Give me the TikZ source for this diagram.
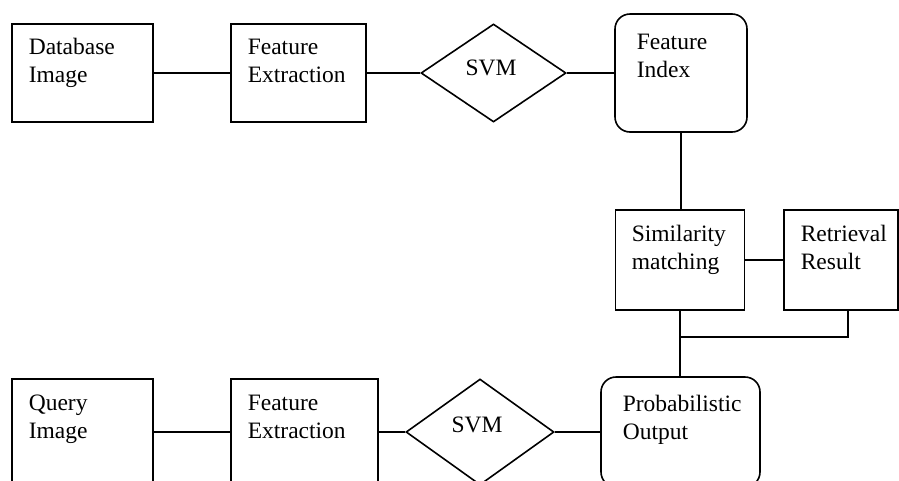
\documentclass[tikz,border=0pt]{standalone}
\usepackage{fontspec}
\setmainfont{Liberation Serif}
\usetikzlibrary{shapes.geometric}
\begin{document}
\begin{tikzpicture}[x=1pt,y=-1pt,
  line width=1.6pt,
  box/.style={draw, rectangle, inner sep=0pt, minimum width=#1},
  rbox/.style={draw, rectangle, rounded corners=15pt, inner sep=0pt},
  dia/.style={draw, diamond, inner sep=0pt},
  lbl/.style={anchor=base west, inner sep=0pt, align=left, font=\fontsize{23.5}{28.5}\selectfont},
  clbl/.style={anchor=base, inner sep=0pt, font=\fontsize{23.5}{28.5}\selectfont}
]
\useasboundingbox (0,0) rectangle (899,480);
\clip (0,0) rectangle (899,480);
% top row
\node[box=141pt, minimum height=98pt] (db) at (82.5,73) {};
\node[box=135pt, minimum height=98pt] (fe1) at (298.5,73) {};
\node[dia, minimum width=145pt, minimum height=98pt] (svm1) at (493.5,73) {};
\node[rbox, minimum width=132pt, minimum height=118pt] (fi) at (681,73) {};
% middle
\node[box=129pt, minimum height=100pt] (sm) at (680,260) {};
\node[box=114pt, minimum height=100pt] (rr) at (841,260) {};
% bottom row
\node[box=141pt, minimum height=106pt] (qi) at (82.5,432) {};
\node[box=147pt, minimum height=106pt] (fe2) at (304.5,432) {};
\node[dia, minimum width=148pt, minimum height=106pt] (svm2) at (480,432) {};
\node[rbox, minimum width=159pt, minimum height=110pt] (po) at (680.5,432) {};
% labels (anchor at baseline of last line)
\node[lbl] (tdb) at (28,82.5) {Database\\Image};
\node[lbl] (tfe1) at (247,82.5) {Feature\\Extraction};
\node[clbl] (tsvm1) at (491,75) {SVM};
\node[lbl] (tfi) at (636,77.5) {Feature\\Index};
\node[lbl] (tsm) at (631,269.5) {Similarity\\matching};
\node[lbl] (trr) at (800,269.5) {Retrieval\\Result};
\node[lbl] (tqi) at (28,438.5) {Query\\Image};
\node[lbl] (tfe2) at (247,438.5) {Feature\\Extraction};
\node[clbl] (tsvm2) at (477,432) {SVM};
\node[lbl] (tpo) at (622,439.5) {Probabilistic\\Output};
% connectors
\draw (db.east) -- (fe1.west);
\draw (fe1.east) -- (svm1.west);
\draw (svm1.east) -- (fi.west);
\draw (fi.south) -- (fi.south |- sm.north);
\draw (sm.east) -- (rr.west);
\coordinate (j1) at (680,337);
\coordinate (rb) at (848,310);
\draw (sm.south) -- (j1) -| (rb);
\draw (j1) -- (j1 |- po.north);
\draw (qi.east) -- (fe2.west);
\draw (fe2.east) -- (svm2.west);
\draw (svm2.east) -- (po.west);
\end{tikzpicture}
\end{document}
